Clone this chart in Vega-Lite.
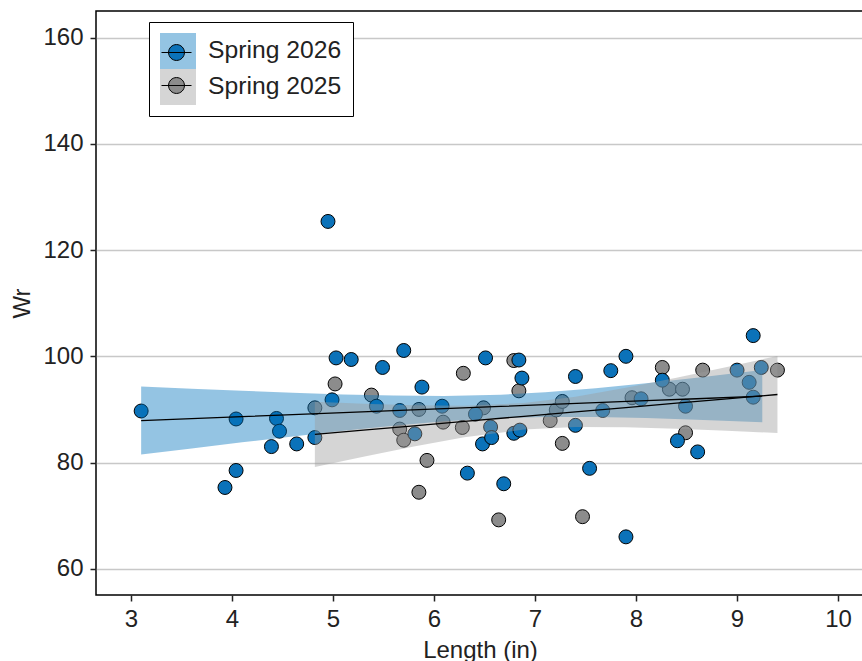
{
  "$schema": "https://vega.github.io/schema/vega-lite/v6.json",
  "width": 768,
  "height": 584,
  "autosize": {"type": "none"},
  "padding": {"left": 96, "top": 11, "right": 0, "bottom": 66},
  "background": "white",
  "config": {
    "font": "Liberation Sans",
    "view": {"stroke": "black", "strokeWidth": 1.5},
    "axis": {
      "labelFont": "Liberation Sans",
      "titleFont": "Liberation Sans",
      "labelFontSize": 24,
      "titleFontSize": 24,
      "labelColor": "#222222",
      "titleColor": "#222222",
      "titleFontWeight": "normal",
      "domain": false,
      "tickColor": "#222222",
      "tickWidth": 1.5,
      "tickSize": 6
    },
    "legend": {"labelFont": "Liberation Sans"}
  },
  "datasets": {
    "pts": [
      {"Length": 4.82, "Wr": 90.3, "Season": "Spring 2025"},
      {"Length": 5.02, "Wr": 94.8, "Season": "Spring 2025"},
      {"Length": 5.38, "Wr": 92.7, "Season": "Spring 2025"},
      {"Length": 5.85, "Wr": 90.0, "Season": "Spring 2025"},
      {"Length": 5.66, "Wr": 86.3, "Season": "Spring 2025"},
      {"Length": 5.70, "Wr": 84.2, "Season": "Spring 2025"},
      {"Length": 6.09, "Wr": 87.6, "Season": "Spring 2025"},
      {"Length": 6.28, "Wr": 86.6, "Season": "Spring 2025"},
      {"Length": 6.49, "Wr": 90.3, "Season": "Spring 2025"},
      {"Length": 5.93, "Wr": 80.4, "Season": "Spring 2025"},
      {"Length": 5.85, "Wr": 74.4, "Season": "Spring 2025"},
      {"Length": 6.29, "Wr": 96.8, "Season": "Spring 2025"},
      {"Length": 6.79, "Wr": 99.2, "Season": "Spring 2025"},
      {"Length": 6.84, "Wr": 93.5, "Season": "Spring 2025"},
      {"Length": 6.64, "Wr": 69.2, "Season": "Spring 2025"},
      {"Length": 7.15, "Wr": 87.9, "Season": "Spring 2025"},
      {"Length": 7.21, "Wr": 89.9, "Season": "Spring 2025"},
      {"Length": 7.27, "Wr": 91.5, "Season": "Spring 2025"},
      {"Length": 7.27, "Wr": 83.6, "Season": "Spring 2025"},
      {"Length": 7.47, "Wr": 69.8, "Season": "Spring 2025"},
      {"Length": 7.96, "Wr": 92.2, "Season": "Spring 2025"},
      {"Length": 8.26, "Wr": 97.9, "Season": "Spring 2025"},
      {"Length": 8.66, "Wr": 97.4, "Season": "Spring 2025"},
      {"Length": 9.40, "Wr": 97.4, "Season": "Spring 2025"},
      {"Length": 8.33, "Wr": 93.8, "Season": "Spring 2025"},
      {"Length": 8.46, "Wr": 93.8, "Season": "Spring 2025"},
      {"Length": 8.49, "Wr": 85.6, "Season": "Spring 2025"},
      {"Length": 3.10, "Wr": 89.7, "Season": "Spring 2026"},
      {"Length": 3.93, "Wr": 75.3, "Season": "Spring 2026"},
      {"Length": 4.04, "Wr": 78.5, "Season": "Spring 2026"},
      {"Length": 4.04, "Wr": 88.2, "Season": "Spring 2026"},
      {"Length": 4.39, "Wr": 83.0, "Season": "Spring 2026"},
      {"Length": 4.44, "Wr": 88.3, "Season": "Spring 2026"},
      {"Length": 4.47, "Wr": 85.9, "Season": "Spring 2026"},
      {"Length": 4.64, "Wr": 83.5, "Season": "Spring 2026"},
      {"Length": 4.82, "Wr": 84.7, "Season": "Spring 2026"},
      {"Length": 4.95, "Wr": 125.4, "Season": "Spring 2026"},
      {"Length": 4.99, "Wr": 91.8, "Season": "Spring 2026"},
      {"Length": 5.03, "Wr": 99.7, "Season": "Spring 2026"},
      {"Length": 5.18, "Wr": 99.4, "Season": "Spring 2026"},
      {"Length": 5.43, "Wr": 90.6, "Season": "Spring 2026"},
      {"Length": 5.49, "Wr": 97.9, "Season": "Spring 2026"},
      {"Length": 5.66, "Wr": 89.8, "Season": "Spring 2026"},
      {"Length": 5.70, "Wr": 101.1, "Season": "Spring 2026"},
      {"Length": 5.81, "Wr": 85.4, "Season": "Spring 2026"},
      {"Length": 5.88, "Wr": 94.2, "Season": "Spring 2026"},
      {"Length": 6.08, "Wr": 90.6, "Season": "Spring 2026"},
      {"Length": 6.33, "Wr": 78.0, "Season": "Spring 2026"},
      {"Length": 6.41, "Wr": 89.1, "Season": "Spring 2026"},
      {"Length": 6.48, "Wr": 83.5, "Season": "Spring 2026"},
      {"Length": 6.51, "Wr": 99.7, "Season": "Spring 2026"},
      {"Length": 6.56, "Wr": 86.7, "Season": "Spring 2026"},
      {"Length": 6.57, "Wr": 84.7, "Season": "Spring 2026"},
      {"Length": 6.69, "Wr": 76.0, "Season": "Spring 2026"},
      {"Length": 6.79, "Wr": 85.5, "Season": "Spring 2026"},
      {"Length": 6.84, "Wr": 99.3, "Season": "Spring 2026"},
      {"Length": 6.85, "Wr": 86.1, "Season": "Spring 2026"},
      {"Length": 6.87, "Wr": 95.9, "Season": "Spring 2026"},
      {"Length": 7.40, "Wr": 96.2, "Season": "Spring 2026"},
      {"Length": 7.40, "Wr": 87.0, "Season": "Spring 2026"},
      {"Length": 7.54, "Wr": 78.9, "Season": "Spring 2026"},
      {"Length": 7.67, "Wr": 89.8, "Season": "Spring 2026"},
      {"Length": 7.75, "Wr": 97.3, "Season": "Spring 2026"},
      {"Length": 7.90, "Wr": 66.0, "Season": "Spring 2026"},
      {"Length": 7.90, "Wr": 100.0, "Season": "Spring 2026"},
      {"Length": 8.05, "Wr": 92.0, "Season": "Spring 2026"},
      {"Length": 8.26, "Wr": 95.5, "Season": "Spring 2026"},
      {"Length": 8.41, "Wr": 84.1, "Season": "Spring 2026"},
      {"Length": 8.49, "Wr": 90.6, "Season": "Spring 2026"},
      {"Length": 8.61, "Wr": 82.0, "Season": "Spring 2026"},
      {"Length": 9.00, "Wr": 97.4, "Season": "Spring 2026"},
      {"Length": 9.12, "Wr": 95.1, "Season": "Spring 2026"},
      {"Length": 9.16, "Wr": 103.9, "Season": "Spring 2026"},
      {"Length": 9.16, "Wr": 92.3, "Season": "Spring 2026"},
      {"Length": 9.24, "Wr": 97.9, "Season": "Spring 2026"}
    ],
    "band": [
      {"Length": 3.1, "lo": 81.5, "hi": 94.3, "fit": 87.9, "Year": "2026"},
      {"Length": 3.6, "lo": 82.66, "hi": 93.88, "fit": 88.27, "Year": "2026"},
      {"Length": 4.1, "lo": 83.8, "hi": 93.5, "fit": 88.65, "Year": "2026"},
      {"Length": 4.6, "lo": 84.91, "hi": 93.13, "fit": 89.02, "Year": "2026"},
      {"Length": 5.1, "lo": 85.96, "hi": 92.82, "fit": 89.39, "Year": "2026"},
      {"Length": 5.6, "lo": 86.93, "hi": 92.61, "fit": 89.77, "Year": "2026"},
      {"Length": 6.1, "lo": 87.75, "hi": 92.53, "fit": 90.14, "Year": "2026"},
      {"Length": 6.66, "lo": 88.36, "hi": 92.76, "fit": 90.56, "Year": "2026"},
      {"Length": 7.1, "lo": 88.57, "hi": 93.21, "fit": 90.89, "Year": "2026"},
      {"Length": 7.6, "lo": 88.56, "hi": 93.98, "fit": 91.27, "Year": "2026"},
      {"Length": 8.1, "lo": 88.36, "hi": 94.92, "fit": 91.64, "Year": "2026"},
      {"Length": 8.6, "lo": 88.06, "hi": 95.96, "fit": 92.01, "Year": "2026"},
      {"Length": 9.25, "lo": 87.6, "hi": 97.4, "fit": 92.5, "Year": "2026"},
      {"Length": 4.82, "lo": 79.15, "hi": 91.45, "fit": 85.3, "Year": "2025"},
      {"Length": 5.3, "lo": 81.1, "hi": 91.08, "fit": 86.09, "Year": "2025"},
      {"Length": 5.8, "lo": 83.03, "hi": 90.79, "fit": 86.91, "Year": "2025"},
      {"Length": 6.3, "lo": 84.76, "hi": 90.7, "fit": 87.73, "Year": "2025"},
      {"Length": 6.89, "lo": 86.2, "hi": 91.2, "fit": 88.7, "Year": "2025"},
      {"Length": 7.4, "lo": 86.67, "hi": 92.39, "fit": 89.53, "Year": "2025"},
      {"Length": 7.9, "lo": 86.64, "hi": 94.06, "fit": 90.35, "Year": "2025"},
      {"Length": 8.4, "lo": 86.37, "hi": 95.97, "fit": 91.17, "Year": "2025"},
      {"Length": 8.9, "lo": 85.99, "hi": 97.99, "fit": 91.99, "Year": "2025"},
      {"Length": 9.4, "lo": 85.55, "hi": 100.07, "fit": 92.81, "Year": "2025"}
    ]
  },
  "layer": [
    {
      "data": {"name": "pts"},
      "mark": {"type": "point", "shape": "circle", "filled": true, "size": 195, "stroke": "black", "strokeWidth": 1, "opacity": 1},
      "encoding": {
        "x": {
          "field": "Length", "type": "quantitative",
          "scale": {"domain": [2.653, 10.257], "nice": false, "zero": false},
          "axis": {"title": "Length (in)", "values": [3, 4, 5, 6, 7, 8, 9, 10], "format": "d", "grid": false, "labelPadding": 6, "titleY": 62, "titleBaseline": "alphabetic"}
        },
        "y": {
          "field": "Wr", "type": "quantitative",
          "scale": {"domain": [55.05, 165.03], "nice": false, "zero": false},
          "axis": {"title": "Wr", "values": [60, 80, 100, 120, 140, 160], "format": "d", "grid": true, "gridColor": "#c8c8c8", "gridWidth": 1.5, "labelPadding": 7, "titlePadding": 8}
        },
        "fill": {
          "field": "Season", "type": "nominal",
          "scale": {"domain": ["Spring 2026", "Spring 2025"], "range": ["#0b72b9", "#8c8c8c"]},
          "legend": {
            "orient": "none", "legendX": 54, "legendY": 15, "title": null, "zindex": 5,
            "padding": 11, "rowPadding": 5,
            "symbolType": "M-0.53,0A0.53,0.53,0,1,0,0.53,0A0.53,0.53,0,1,0,-0.53,0ZM-1,0L1,0",
            "symbolSize": 900, "symbolStrokeColor": "black", "symbolStrokeWidth": 1, "symbolOpacity": 1,
            "labelFontSize": 24, "labelExpr": "''", "labelOffset": 0
          }
        }
      }
    },
    {
      "data": {"name": "band"},
      "mark": {"type": "area", "opacity": 0.42},
      "encoding": {
        "x": {"field": "Length", "type": "quantitative"},
        "y": {"field": "lo", "type": "quantitative", "stack": null},
        "y2": {"field": "hi"},
        "color": {
          "field": "Year", "type": "nominal",
          "scale": {"domain": ["2026", "2025"], "range": ["#0072bd", "#9a9a9a"]},
          "legend": {
            "orient": "none", "legendX": 53, "legendY": 11, "title": null, "zindex": 1,
            "padding": 11, "rowPadding": 0,
            "strokeColor": "black", "fillColor": "white",
            "symbolType": "square", "symbolSize": 1296, "symbolStrokeWidth": 0, "symbolOpacity": 0.42,
            "labelFontSize": 24.7, "labelColor": "#222222", "labelOffset": 12,
            "labelExpr": "'Spring ' + datum.label"
          }
        }
      }
    },
    {
      "data": {"name": "band"},
      "mark": {"type": "line", "color": "black", "strokeWidth": 1.3},
      "encoding": {
        "x": {"field": "Length", "type": "quantitative"},
        "y": {"field": "fit", "type": "quantitative"},
        "detail": {"field": "Year", "type": "nominal"}
      }
    }
  ]
}
